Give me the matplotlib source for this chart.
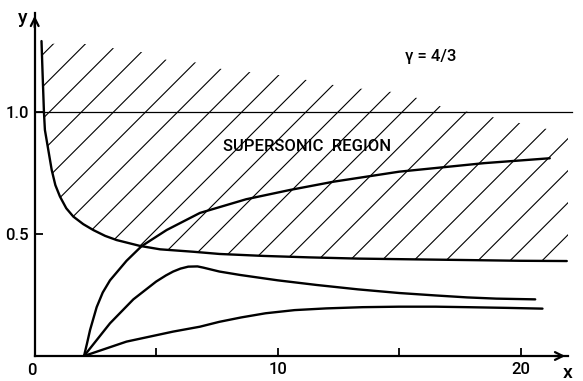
import numpy as np
import matplotlib
matplotlib.use("Agg")
import matplotlib.pyplot as plt
from matplotlib.patches import Polygon
from matplotlib.collections import LineCollection

plt.rcParams["font.family"] = ["Roboto", "DejaVu Sans"]

# ---- data ----
sonic_x = [0.28, 0.32, 0.38, 0.42, 0.56, 0.70, 0.85, 1.04, 1.30, 1.59, 2.00, 2.41, 2.90, 3.37,
           4.33, 5.16, 6.53, 7.60, 9.40, 11.3, 13.3, 15.5, 17.8, 20.0, 21.9]
sonic_y = [1.29, 1.17, 1.00, 0.926, 0.844, 0.762, 0.700, 0.653, 0.605, 0.571, 0.540, 0.516, 0.492, 0.475,
           0.451, 0.437, 0.427, 0.418, 0.410, 0.404, 0.399, 0.396, 0.393, 0.390, 0.389]

upper_x = [2.03, 2.15, 2.28, 2.55, 2.80, 3.10, 3.78, 4.40, 5.43, 6.80, 8.70, 10.5, 12.3, 15.0, 18.5, 21.2]
upper_y = [0.0, 0.05, 0.107, 0.20, 0.26, 0.31, 0.39, 0.45, 0.516, 0.586, 0.642, 0.680, 0.714, 0.755, 0.790, 0.810]

middle_x = [2.03, 3.10, 4.06, 5.00, 5.40, 5.70, 6.00, 6.32, 6.70, 6.94, 7.60, 8.45, 10.0, 11.6,
            13.3, 15.0, 16.5, 17.8, 19.0, 20.6]
middle_y = [0.0, 0.134, 0.232, 0.305, 0.330, 0.346, 0.358, 0.366, 0.367, 0.362, 0.346, 0.332, 0.310, 0.291,
            0.273, 0.258, 0.248, 0.240, 0.235, 0.232]

lower_x = [2.03, 3.78, 5.70, 6.80, 7.60, 8.50, 9.50, 10.7, 12.0, 13.5, 15.0, 16.5, 17.8, 19.5, 20.9]
lower_y = [0.0, 0.059, 0.100, 0.120, 0.140, 0.158, 0.175, 0.188, 0.195, 0.200, 0.202, 0.202, 0.200, 0.197, 0.194]

# upper edge of the hatched (supersonic) region
hatch_top_x = [0.28, 1.38, 2.41, 3.37, 4.47, 5.43, 6.60, 7.68, 8.93, 10.23, 11.33, 12.42, 13.52,
               14.76, 15.86, 16.8, 17.9, 22.0]
hatch_top_y = [1.28, 1.278, 1.278, 1.258, 1.244, 1.213, 1.203, 1.176, 1.162, 1.149, 1.128, 1.108, 1.094,
               1.081, 1.054, 1.019, 0.999, 0.91]

sonic_level = 1.0
x_ticks = [5, 10, 15, 20]
x_ticklabels = ["", "10", "", "20"]
y_ticks = [0.5, 1.0]
y_ticklabels = ["0.5", "1.0"]

W, H = 583, 381
fig = plt.figure(figsize=(W / 100, H / 100), dpi=100)
left_px, right_px, bottom_px, top_px = 34.7, 568.0, 25.0, 368.0
ax = fig.add_axes([left_px / W, bottom_px / H, (right_px - left_px) / W, (top_px - bottom_px) / H])
ax.set_xlim(0, 21.95)
ax.set_ylim(0, 1.405)

for s in ("top", "right"):
    ax.spines[s].set_visible(False)
for s in ("left", "bottom"):
    ax.spines[s].set_linewidth(1.6)

tfont = dict(fontsize=12, fontweight="medium")
ax.set_xticks(x_ticks)
ax.set_xticklabels(x_ticklabels, **tfont)
ax.set_yticks(y_ticks)
ax.set_yticklabels(y_ticklabels, **tfont)
ax.tick_params(direction="in", length=6, width=1.3, pad=4)
ax.text(-0.1, -0.03, "0", ha="center", va="top", transform=ax.transData, **tfont)

# arrows
ax.annotate("", xy=(1.0, 0), xytext=(0.97, 0), xycoords="axes fraction",
            arrowprops=dict(arrowstyle="->", lw=1.6, mutation_scale=14, color="black"))
ax.annotate("", xy=(0, 1.0), xytext=(0, 0.95), xycoords="axes fraction",
            arrowprops=dict(arrowstyle="->", lw=1.6, mutation_scale=14, color="black"))
ax.text(-0.022, 0.985, "y", transform=ax.transAxes, fontsize=14, fontweight="medium", ha="center", va="center")
ax.text(0.999, -0.05, "x", transform=ax.transAxes, fontsize=14, fontweight="medium", ha="center", va="center")

# hatched region
poly_pts = list(zip(hatch_top_x, hatch_top_y)) + [(22.0, sonic_y[-1])] + list(zip(sonic_x[::-1], sonic_y[::-1]))
clip = Polygon(poly_pts, closed=True, facecolor="none", edgecolor="none")
ax.add_patch(clip)
fig.canvas.draw()
p0 = ax.transData.transform((0, 0))
p1 = ax.transData.transform((1, 1))
slope = (p1[0] - p0[0]) / (p1[1] - p0[1])  # data dy/dx for 45 deg in pixels
spacing = 1.32
phase = 1.93
segs = []
for k in range(-5, 40):
    xc = phase + k * spacing  # crossing at y=1
    xa = xc - 1.0 / slope
    xb = xc + 0.5 / slope
    segs.append([(xa, 0.0), (xb, 1.5)])
lc = LineCollection(segs, colors="black", linewidths=0.8)
ax.add_collection(lc)
lc.set_clip_path(clip)

# horizontal sonic line
ax.plot([0, 22.1], [sonic_level, sonic_level], color="black", lw=0.9, clip_on=False)

# curves
kw = dict(color="black", lw=1.7, solid_capstyle="round", solid_joinstyle="round")
ax.plot(sonic_x, sonic_y, **kw)
ax.plot(upper_x, upper_y, **kw)
ax.plot(middle_x, middle_y, **kw)
ax.plot(lower_x, lower_y, **kw)

ax.text(16.3, 1.225, "γ = 4/3", ha="center", va="center", **tfont)
ax.text(11.2, 0.857, "SUPERSONIC  REGION", ha="center", va="center", **tfont)

fig.savefig("out.png", dpi=100)
